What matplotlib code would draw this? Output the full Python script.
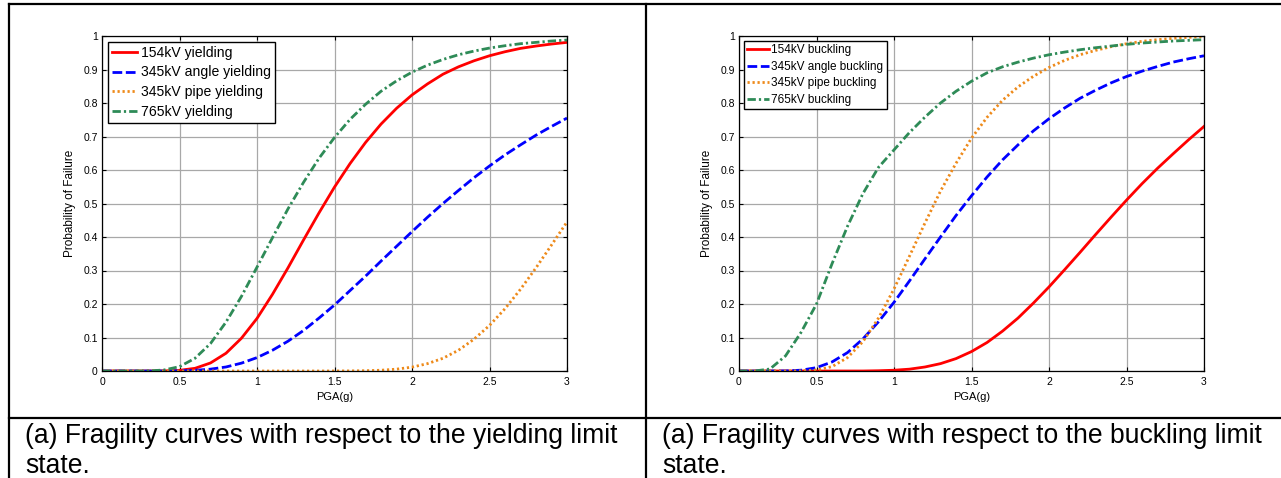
import matplotlib
matplotlib.use("Agg")
import matplotlib.pyplot as plt

plt.rcParams['font.family'] = ['Liberation Sans', 'DejaVu Sans']

# PGA(g) sample points
pga = [0.0, 0.1, 0.2, 0.3, 0.4, 0.5, 0.6, 0.7, 0.8, 0.9, 1.0,
       1.1, 1.2, 1.3, 1.4, 1.5, 1.6, 1.7, 1.8, 1.9, 2.0,
       2.1, 2.2, 2.3, 2.4, 2.5, 2.6, 2.7, 2.8, 2.9, 3.0]

# (a) yielding limit state
y154 = [0, 0, 0, 0, 0.0003, 0.002, 0.008, 0.024, 0.053, 0.098, 0.157,
        0.229, 0.308, 0.391, 0.472, 0.549, 0.619, 0.682, 0.737, 0.784, 0.824,
        0.857, 0.886, 0.908, 0.926, 0.941, 0.953, 0.963, 0.970, 0.976, 0.981]
y345a = [0, 0, 0, 0, 0.0001, 0.0005, 0.002, 0.0055, 0.012, 0.0235, 0.040,
         0.062, 0.089, 0.121, 0.158, 0.197, 0.240, 0.283, 0.328, 0.372, 0.416,
         0.459, 0.500, 0.539, 0.577, 0.612, 0.645, 0.675, 0.704, 0.730, 0.755]
y345p = [0, 0, 0, 0, 0, 0, 0, 0, 0, 0, 0,
         0, 0, 0, 0, 0.0001, 0.0003, 0.0009, 0.0023, 0.0055, 0.0115,
         0.022, 0.038, 0.062, 0.095, 0.136, 0.186, 0.244, 0.308, 0.376, 0.445]
y765 = [0, 0, 0, 0.0002, 0.003, 0.013, 0.038, 0.082, 0.146, 0.223, 0.310,
        0.398, 0.484, 0.563, 0.635, 0.697, 0.751, 0.796, 0.835, 0.866, 0.892,
        0.913, 0.930, 0.944, 0.955, 0.964, 0.971, 0.977, 0.981, 0.985, 0.988]

# (b) buckling limit state
b154 = [0, 0, 0, 0, 0, 0, 0, 0, 0, 0.0008, 0.0023,
        0.0055, 0.012, 0.022, 0.037, 0.058, 0.085, 0.119, 0.158, 0.203, 0.251,
        0.302, 0.354, 0.407, 0.459, 0.510, 0.559, 0.605, 0.648, 0.690, 0.730]
b345a = [0, 0, 0, 0.0003, 0.0024, 0.010, 0.027, 0.055, 0.096, 0.147, 0.205,
         0.269, 0.335, 0.400, 0.464, 0.523, 0.579, 0.630, 0.675, 0.717, 0.753,
         0.785, 0.814, 0.838, 0.860, 0.879, 0.895, 0.909, 0.922, 0.932, 0.941]
b345p = [0, 0, 0, 0, 0.0003, 0.003, 0.013, 0.040, 0.088, 0.158, 0.245,
         0.343, 0.442, 0.537, 0.620, 0.695, 0.757, 0.808, 0.848, 0.880, 0.906,
         0.927, 0.944, 0.957, 0.968, 0.977, 0.984, 0.989, 0.993, 0.996, 0.998]
b765 = [0, 0, 0.006, 0.045, 0.115, 0.200, 0.320, 0.432, 0.530, 0.608, 0.660,
        0.712, 0.758, 0.800, 0.835, 0.865, 0.890, 0.908, 0.922, 0.934, 0.944,
        0.952, 0.959, 0.965, 0.970, 0.975, 0.979, 0.982, 0.985, 0.987, 0.989]

xticks = [0, 0.5, 1, 1.5, 2, 2.5, 3]
xticklabels = ['0', '0.5', '1', '1.5', '2', '2.5', '3']
yticks = [0, 0.1, 0.2, 0.3, 0.4, 0.5, 0.6, 0.7, 0.8, 0.9, 1]
yticklabels = ['0', '0.1', '0.2', '0.3', '0.4', '0.5', '0.6', '0.7', '0.8', '0.9', '1']

captions = [("(a) Fragility curves with respect to the yielding limit", "state."),
            ("(a) Fragility curves with respect to the buckling limit", "state.")]

W, H = 1281, 478
fig = plt.figure(figsize=(W / 100, H / 100), dpi=100)

# table frame drawn in pixel space
bg = fig.add_axes([0, 0, 1, 1])
bg.set_xlim(0, W)
bg.set_ylim(H, 0)
bg.axis('off')
lw_tab = 1.6
bg.plot([9, W], [4, 4], color='black', lw=lw_tab)
bg.plot([9, 9], [4, H], color='black', lw=lw_tab)
bg.plot([646, 646], [4, H], color='black', lw=lw_tab)
bg.plot([9, W], [418, 418], color='black', lw=lw_tab)

cap_fs = 19.1
bg.text(25, 443, captions[0][0], fontsize=cap_fs, va='baseline', ha='left')
bg.text(25, 473, captions[0][1], fontsize=cap_fs, va='baseline', ha='left')
bg.text(662, 443, captions[1][0], fontsize=cap_fs, va='baseline', ha='left')
bg.text(662, 473, captions[1][1], fontsize=cap_fs, va='baseline', ha='left')

styles = [dict(color='#FF0000', lw=2.0, ls='-'),
          dict(color='#0000FF', lw=2.0, ls=(0, (3.5, 1.3))),
          dict(color='#EE8A1A', lw=2.0, ls=(0, (0.8, 1.0))),
          dict(color='#2E8B57', lw=2.0, ls=(0, (3.0, 1.1, 0.8, 1.1)))]


def make_panel(left, series, labels, legend_fs, spacing):
    ax = fig.add_axes([left / W, 1 - 371 / H, 465 / W, 335 / H])
    for ys, lab, st in zip(series, labels, styles):
        ax.plot(pga, ys, label=lab, **st)
    ax.set_xlim(0, 3)
    ax.set_ylim(0, 1)
    ax.set_xticks(xticks)
    ax.set_xticklabels(xticklabels)
    ax.set_yticks(yticks)
    ax.set_yticklabels(yticklabels)
    ax.grid(True, color='#a8a8a8', lw=0.9, ls='-')
    ax.set_axisbelow(True)
    ax.tick_params(direction='in', top=True, right=True, length=3,
                   width=0.8, labelsize=7.5, colors='black')
    ax.tick_params(axis='x', pad=4)
    ax.tick_params(axis='y', pad=3)
    for s in ax.spines.values():
        s.set_linewidth(0.9)
    ax.set_xlabel('PGA(g)', fontsize=8, labelpad=4)
    ax.set_ylabel('Probability of Failure', fontsize=8.5, labelpad=5)
    leg = ax.legend(loc='upper left', fontsize=legend_fs, frameon=True,
                    fancybox=False, framealpha=1, edgecolor='black',
                    borderaxespad=0.4, borderpad=0.3, handlelength=1.8,
                    handletextpad=0.25, labelspacing=spacing)
    leg.get_frame().set_linewidth(1.0)
    return ax


make_panel(102, [y154, y345a, y345p, y765],
           ['154kV yielding', '345kV angle yielding',
            '345kV pipe yielding', '765kV yielding'], 10.1, 0.4)
make_panel(739, [b154, b345a, b345p, b765],
           ['154kV buckling', '345kV angle buckling',
            '345kV pipe buckling', '765kV buckling'], 8.5, 0.38)

fig.savefig('out.png', dpi=100)
